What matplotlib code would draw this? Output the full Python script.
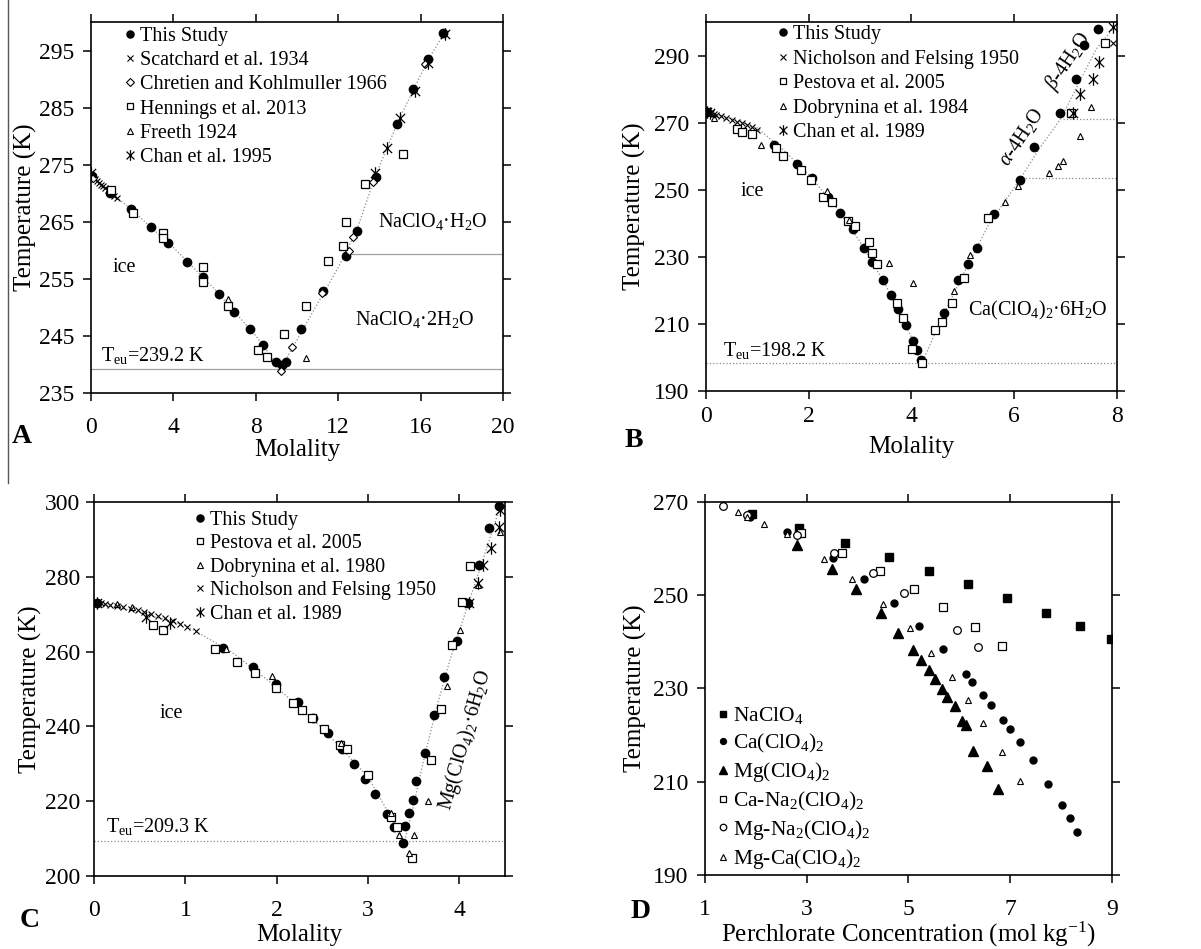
"""
Perchlorate freezing-point depression diagrams (A-D)
"""
import matplotlib
matplotlib.use('Agg')
import matplotlib.pyplot as plt
from matplotlib.path import Path
from matplotlib.lines import Line2D

plt.rcParams['font.family'] = ['Liberation Serif', 'DejaVu Serif']
plt.rcParams['mathtext.fontset'] = 'custom'
plt.rcParams['mathtext.rm'] = 'Liberation Serif'
plt.rcParams['mathtext.it'] = 'Liberation Serif:italic'
plt.rcParams['mathtext.bf'] = 'Liberation Serif:bold'

# ---------------- Panel A : NaClO4 ----------------
A_this_x = [0.05, 0.92, 1.94, 2.9, 3.74, 4.64, 5.45, 6.21, 6.95, 7.74, 8.36, 9.0, 9.26, 9.45,
            10.2, 11.25, 12.38, 12.9, 13.83, 14.85, 15.63, 16.36, 17.09]
A_this_t = [273.1, 270.1, 267.2, 264.0, 261.2, 257.9, 255.3, 252.3, 249.2, 246.2, 243.4, 240.4,
            239.9, 240.4, 246.2, 252.9, 259.0, 263.4, 272.9, 282.2, 288.3, 293.6, 298.1]
A_scat_x = [0.05, 0.1, 0.2, 0.3, 0.4, 0.5, 0.6, 0.7, 0.8, 0.9, 1.0, 1.1, 1.25]
A_scat_t = [273.0, 272.8, 272.5, 272.1, 271.8, 271.5, 271.2, 270.9, 270.5, 270.2, 269.9, 269.6, 269.2]
A_chre_x = [0.1, 9.22, 9.74, 11.2, 12.52, 12.7, 13.7, 16.2]
A_chre_t = [272.7, 238.8, 243.0, 252.5, 259.8, 262.4, 271.9, 292.7]
A_henn_x = [0.95, 2.04, 3.5, 3.5, 5.45, 5.45, 6.66, 8.12, 8.53, 9.37, 10.42, 11.52, 12.25, 12.4,
            13.3, 15.16]
A_henn_t = [270.6, 266.5, 263.0, 262.2, 257.0, 254.4, 250.2, 242.5, 241.3, 245.3, 250.2, 258.2,
            260.7, 265.0, 271.7, 276.8]
A_free_x = [6.66, 10.42]
A_free_t = [251.4, 241.1]
A_chan_x = [0.02, 13.79, 14.37, 15.0, 15.73, 16.36, 17.2]
A_chan_t = [273.5, 273.5, 278.0, 283.1, 288.0, 292.9, 297.9]
A_curve_x = [0, 2, 4, 6, 8, 9.2, 10.5, 12, 12.9, 13.8, 14.9, 15.7, 16.4, 17.2]
A_curve_t = [273.15, 267, 260.5, 253.2, 245, 239.2, 247.5, 257, 263.5, 273, 282.5, 288.5, 293.6, 298.3]
A_teu = 239.2
A_trans = 259.3

# ---------------- Panel B : Ca(ClO4)2 ----------------
B_this_x = [0.02, 1.32, 1.77, 2.06, 2.37, 2.61, 2.86, 3.07, 3.24, 3.45, 3.6, 3.73, 3.89, 4.03,
            4.1, 4.18, 4.63, 4.9, 5.1, 5.27, 5.6, 6.11, 6.38, 6.9, 7.21, 7.35, 7.63]
B_this_t = [273.2, 263.4, 257.8, 253.6, 247.9, 243.2, 238.3, 232.7, 228.5, 223.1, 218.6, 214.5,
            209.7, 204.9, 202.2, 199.3, 213.3, 223.1, 227.9, 232.7, 242.8, 253.0, 262.8, 273.0,
            283.1, 293.0, 297.8]
B_nich_x = [0.05, 0.1, 0.15, 0.2, 0.3, 0.4, 0.5, 0.6, 0.7, 0.8, 0.9, 1.0, 7.92]
B_nich_t = [273.0, 272.8, 272.6, 272.3, 271.9, 271.4, 270.9, 270.3, 269.8, 269.2, 268.6, 267.8, 293.8]
B_pest_x = [0.6, 0.7, 0.9, 1.36, 1.5, 1.85, 2.04, 2.28, 2.45, 2.76, 2.91, 3.17, 3.24, 3.32, 3.71,
            3.83, 4.02, 4.2, 4.45, 4.59, 4.78, 5.02, 5.49, 7.1, 7.76]
B_pest_t = [268.2, 267.3, 266.7, 262.5, 260.2, 256.0, 253.0, 247.9, 246.4, 240.8, 239.3, 234.5,
            231.2, 227.9, 216.3, 211.8, 202.5, 198.4, 208.2, 210.6, 216.3, 223.7, 241.6, 273.0, 293.6]
B_dobr_x = [0.16, 1.07, 2.35, 2.78, 3.56, 4.03, 4.82, 5.14, 5.82, 6.07, 6.68, 6.85, 6.95, 7.28, 7.49]
B_dobr_t = [271.5, 263.4, 249.7, 241.0, 228.2, 222.3, 219.9, 230.6, 246.4, 251.2, 255.1, 257.2,
            258.7, 266.1, 274.8]
B_chan_x = [0.03, 0.08, 7.14, 7.28, 7.53, 7.65, 7.92]
B_chan_t = [273.2, 272.9, 273.0, 278.4, 283.1, 288.2, 298.5]
B_curve_x = [0, 0.5, 1, 1.5, 2, 2.5, 3, 3.5, 4, 4.2, 4.6, 5, 5.5, 6.1, 6.5, 6.9, 7.3, 7.6, 7.95]
B_curve_t = [273.15, 271.2, 268.4, 262, 254.5, 245.5, 234.5, 221.5, 206, 198.2, 212, 224.5,
             239.5, 252.8, 262.5, 271, 283, 292, 298.5]
B_teu = 198.2
B_trans1 = 253.5
B_trans2 = 271.2

# ---------------- Panel C : Mg(ClO4)2 ----------------
C_this_x = [0.03, 1.41, 1.74, 1.99, 2.23, 2.4, 2.56, 2.72, 2.85, 2.97, 3.08, 3.21, 3.28, 3.38,
            3.41, 3.45, 3.49, 3.53, 3.62, 3.72, 3.83, 3.97, 4.09, 4.22, 4.33, 4.43]
C_this_t = [273.0, 261.0, 255.9, 251.3, 246.4, 242.2, 238.2, 234.0, 229.9, 225.9, 221.9, 216.6,
            213.2, 208.8, 213.4, 216.8, 220.3, 225.4, 232.9, 243.0, 253.2, 262.8, 273.0, 283.2,
            293.0, 298.9]
C_pest_x = [0.65, 0.75, 1.32, 1.56, 1.76, 1.99, 2.18, 2.28, 2.39, 2.52, 2.69, 2.77, 3.0, 3.25,
            3.32, 3.48, 3.69, 3.8, 3.92, 4.03, 4.12]
C_pest_t = [267.1, 265.8, 260.7, 257.2, 254.3, 250.3, 246.3, 244.4, 242.3, 239.3, 235.0, 234.0,
            227.0, 215.8, 213.1, 204.8, 231.0, 244.6, 261.8, 273.2, 282.9]
C_dobr_x = [0.25, 0.42, 1.45, 1.95, 2.7, 3.25, 3.34, 3.45, 3.5, 3.66, 3.86, 4.01, 4.2, 4.45]
C_dobr_t = [272.7, 271.9, 260.7, 253.5, 235.6, 216.8, 211.0, 206.1, 211.0, 220.0, 250.8, 265.8,
            277.8, 292.0]
C_nich_x = [0.03, 0.08, 0.12, 0.18, 0.25, 0.32, 0.4, 0.48, 0.55, 0.62, 0.7, 0.78, 0.86, 0.94,
            1.02, 1.12]
C_nich_t = [273.0, 272.9, 272.7, 272.5, 272.2, 271.9, 271.5, 271.1, 270.6, 270.1, 269.6, 268.9,
            268.2, 267.4, 266.6, 265.5]
C_chan_x = [0.03, 0.57, 0.83, 4.11, 4.2, 4.26, 4.35, 4.43, 4.45]
C_chan_t = [273.0, 269.3, 267.6, 273.0, 278.3, 283.2, 287.7, 293.3, 297.9]
C_curve_x = [0, 0.5, 1, 1.5, 2, 2.5, 3, 3.4, 3.5, 3.6, 3.75, 3.9, 4.1, 4.25, 4.45]
C_curve_t = [273.15, 270.5, 267, 260, 250.5, 239.5, 226.5, 209.3, 219, 230, 245, 258, 273, 284, 299]
C_teu = 209.3

# ---------------- Panel D : perchlorate concentration ----------------
D_na_x = [1.92, 2.85, 3.75, 4.61, 5.4, 6.17, 6.93, 7.7, 8.37, 8.98]
D_na_t = [267.5, 264.5, 261.2, 258.2, 255.2, 252.4, 249.4, 246.2, 243.4, 240.6]
D_ca_x = [1.88, 2.62, 3.52, 4.12, 4.71, 5.2, 5.67, 6.13, 6.25, 6.46, 6.62, 6.86, 6.99, 7.19,
          7.44, 7.74, 8.01, 8.17, 8.31]
D_ca_t = [266.8, 263.6, 258.0, 253.5, 248.4, 243.4, 238.5, 233.1, 231.4, 228.5, 226.5, 223.3,
          221.3, 218.5, 214.7, 209.5, 205.0, 202.2, 199.2]
D_mg_x = [2.81, 3.5, 3.97, 4.46, 4.79, 5.09, 5.24, 5.4, 5.52, 5.65, 5.75, 5.91, 6.06, 6.14,
          6.27, 6.54, 6.76]
D_mg_t = [260.8, 255.6, 251.4, 246.2, 242.0, 238.3, 236.1, 234.0, 232.1, 229.9, 228.2, 226.2,
          223.0, 222.2, 216.6, 213.4, 208.5]
D_cana_x = [2.88, 3.69, 4.44, 5.11, 5.68, 6.3, 6.83]
D_cana_t = [263.4, 259.1, 255.2, 251.4, 247.5, 243.2, 239.1]
D_mgna_x = [1.35, 1.83, 2.81, 3.53, 4.3, 4.91, 5.95, 6.36]
D_mgna_t = [269.2, 267.3, 263.0, 259.1, 254.8, 250.5, 242.6, 238.9]
D_mgca_x = [1.65, 1.83, 2.16, 2.61, 3.34, 3.89, 4.49, 5.03, 5.44, 5.85, 6.17, 6.46, 6.83, 7.19]
D_mgca_t = [267.9, 266.8, 265.3, 263.2, 257.8, 253.5, 248.2, 243.0, 237.6, 232.5, 227.6, 222.6,
            216.4, 210.2]

# X with vertical bar, the "Chan et al." marker
STAR6 = Path([(-1, -1), (1, 1), (-1, 1), (1, -1), (0, -1.35), (0, 1.35)],
             [Path.MOVETO, Path.LINETO] * 3)

TICK_FS = 17
LABEL_FS = 18
LEG_FS = 14.5
ANN_FS = 14.5

filled_circle = dict(ls='none', marker='o', ms=6, color='black')
open_square = dict(ls='none', marker='s', ms=5.5, mfc='white', mec='black', mew=0.9)
open_diamond = dict(ls='none', marker='D', ms=4.5, mfc='white', mec='black', mew=0.8)
open_tri = dict(ls='none', marker='^', ms=5, mfc='white', mec='black', mew=0.8)
cross = dict(ls='none', marker='x', ms=5, color='black', mew=0.8)
star6 = dict(ls='none', marker=STAR6, ms=9, mfc='none', mec='black', mew=0.9)
curve_style = dict(color='#8a8a8a', lw=0.9, ls=':')


def style_axes(ax, xlim, ylim, xticks, yticks, xlabel, xpad, ypad, xlab_y, ylab_x):
    ax.set_xlim(*xlim)
    ax.set_ylim(*ylim)
    ax.set_xticks(xticks)
    ax.set_yticks(yticks)
    ax.tick_params(direction='out', length=6, width=1.1, labelsize=TICK_FS,
                   top=True, right=True)
    ax.tick_params(axis='x', pad=xpad)
    ax.tick_params(axis='y', pad=ypad)
    for sp in ax.spines.values():
        sp.set_linewidth(1.2)
    ax.set_xlabel(xlabel, fontsize=LABEL_FS)
    ax.set_ylabel('Temperature (K)', fontsize=LABEL_FS)
    ax.xaxis.set_label_coords(0.5, xlab_y)
    ax.yaxis.set_label_coords(ylab_x, 0.5)


def add_legend(ax, x0, y0, spacing=0.25, fs=LEG_FS):
    leg = ax.legend(loc='upper left', bbox_to_anchor=(x0, y0), frameon=False,
                    fontsize=fs, handlelength=0.5, handletextpad=0.25,
                    labelspacing=spacing, borderpad=0, borderaxespad=0,
                    markerscale=0.85)
    return leg


fig = plt.figure(figsize=(12.01, 9.49), dpi=100)
axA = fig.add_axes([0.0758, 0.5859, 0.343, 0.3909])
axB = fig.add_axes([0.5878, 0.5880, 0.3422, 0.3888])
axC = fig.add_axes([0.0783, 0.0769, 0.3422, 0.3941])
axD = fig.add_axes([0.5870, 0.0780, 0.3389, 0.3930])

# ---- A ----
axA.plot(A_curve_x, A_curve_t, **curve_style)
axA.axhline(A_teu, color='#a0a0a0', lw=0.9)
axA.plot([12.5, 20], [A_trans, A_trans], color='#a0a0a0', lw=0.9)
axA.plot(A_this_x, A_this_t, label='This Study', **filled_circle)
axA.plot(A_scat_x, A_scat_t, label='Scatchard et al. 1934', **cross)
axA.plot(A_chre_x, A_chre_t, label='Chretien and Kohlmuller 1966', **open_diamond)
axA.plot(A_henn_x, A_henn_t, label='Hennings et al. 2013', **open_square)
axA.plot(A_free_x, A_free_t, label='Freeth 1924', **open_tri)
axA.plot(A_chan_x, A_chan_t, label='Chan et al. 1995', **star6)
style_axes(axA, (0, 20), (235, 300), range(0, 21, 4), range(235, 300, 10), 'Molality',
           xpad=11, ypad=6, xlab_y=-0.124, ylab_x=-0.131)
add_legend(axA, 0.082, 0.9865)
axA.text(1.6, 257, 'ice', fontsize=ANN_FS, ha='center', va='center')
axA.text(16.6, 265, 'NaClO$_4$·H$_2$O', fontsize=ANN_FS, ha='center', va='center')
axA.text(15.7, 247.8, 'NaClO$_4$·2H$_2$O', fontsize=ANN_FS, ha='center', va='center')
axA.text(3.0, 241.6, 'T$_{\\mathrm{eu}}$=239.2 K', fontsize=ANN_FS, ha='center', va='center')

# ---- B ----
axB.plot(B_curve_x, B_curve_t, **curve_style)
axB.axhline(B_teu, color='#8a8a8a', lw=0.9, ls=':')
axB.plot([6.15, 8], [B_trans1, B_trans1], color='#8a8a8a', lw=0.9, ls=':')
axB.plot([6.95, 8], [B_trans2, B_trans2], color='#8a8a8a', lw=0.9, ls=':')
axB.plot(B_this_x, B_this_t, label='This Study', **filled_circle)
axB.plot(B_nich_x, B_nich_t, label='Nicholson and Felsing 1950', **cross)
axB.plot(B_pest_x, B_pest_t, label='Pestova et al. 2005', **open_square)
axB.plot(B_dobr_x, B_dobr_t, label='Dobrynina et al. 1984', **open_tri)
axB.plot(B_chan_x, B_chan_t, label='Chan et al. 1989', **star6)
style_axes(axB, (0, 8), (190, 300), range(0, 9, 2), range(190, 300, 20), 'Molality',
           xpad=5, ypad=6, xlab_y=-0.122, ylab_x=-0.146)
add_legend(axB, 0.175, 0.992, spacing=0.27)
axB.text(0.9, 249.5, 'ice', fontsize=ANN_FS, ha='center', va='center')
axB.text(6.45, 214, 'Ca(ClO$_4$)$_2$·6H$_2$O', fontsize=ANN_FS, ha='center', va='center')
axB.text(1.35, 202, 'T$_{\\mathrm{eu}}$=198.2 K', fontsize=ANN_FS, ha='center', va='center')
axB.text(6.15, 265.8, '$\\alpha$-4H$_2$O', fontsize=ANN_FS, ha='center', va='center', rotation=56)
axB.text(7.06, 288.2, '$\\beta$-4H$_2$O', fontsize=ANN_FS, ha='center', va='center', rotation=56)

# ---- C ----
axC.plot(C_curve_x, C_curve_t, **curve_style)
axC.axhline(C_teu, color='#8a8a8a', lw=0.9, ls=':')
axC.plot(C_this_x, C_this_t, label='This Study', **filled_circle)
axC.plot(C_pest_x, C_pest_t, label='Pestova et al. 2005', **open_square)
axC.plot(C_dobr_x, C_dobr_t, label='Dobrynina et al. 1980', **open_tri)
axC.plot(C_nich_x, C_nich_t, label='Nicholson and Felsing 1950', **cross)
axC.plot(C_chan_x, C_chan_t, label='Chan et al. 1989', **star6)
style_axes(axC, (0, 4.5), (200, 300), range(0, 5), range(200, 301, 20), 'Molality',
           xpad=11, ypad=4, xlab_y=-0.128, ylab_x=-0.127)
add_legend(axC, 0.245, 0.9766, spacing=0.22)
axC.text(0.85, 243.5, 'ice', fontsize=ANN_FS, ha='center', va='center')
axC.text(0.7, 213.2, 'T$_{\\mathrm{eu}}$=209.3 K', fontsize=ANN_FS, ha='center', va='center')
axC.text(4.07, 236.5, 'Mg(ClO$_4$)$_2$·6H$_2$O', fontsize=ANN_FS, ha='center', va='center',
         rotation=74)

# ---- D ----
axD.plot(D_na_x, D_na_t, ls='none', marker='s', ms=5.5, color='black', label='NaClO$_4$')
axD.plot(D_ca_x, D_ca_t, ls='none', marker='o', ms=5, color='black', label='Ca(ClO$_4$)$_2$')
axD.plot(D_mg_x, D_mg_t, ls='none', marker='^', ms=6.5, color='black', label='Mg(ClO$_4$)$_2$')
axD.plot(D_cana_x, D_cana_t, label='Ca-Na$_2$(ClO$_4$)$_2$', **open_square)
axD.plot(D_mgna_x, D_mgna_t, ls='none', marker='o', ms=5.5, mfc='white', mec='black', mew=0.9,
         label='Mg-Na$_2$(ClO$_4$)$_2$')
axD.plot(D_mgca_x, D_mgca_t, label='Mg-Ca(ClO$_4$)$_2$', **open_tri)
style_axes(axD, (1, 9), (190, 270), range(1, 10, 2), range(190, 271, 20),
           'Perchlorate Concentration (mol kg$^{-1}$)',
           xpad=11, ypad=6, xlab_y=-0.121, ylab_x=-0.1425)
add_legend(axD, 0.03, 0.4546, spacing=0.25, fs=15.5)

# panel letters
for lbl, x, y in [('A', 0.0095, 0.540), ('B', 0.52, 0.536), ('C', 0.016, 0.030),
                  ('D', 0.525, 0.039)]:
    fig.text(x, y, lbl, fontsize=20, fontweight='bold', ha='left', va='center')

# thin frame line on the far left of the upper half
fig.add_artist(Line2D([8 / 1201, 8 / 1201], [1 - 483 / 949, 1.0], color='#555555', lw=1.0))

plt.savefig('out.png', dpi=100)
plt.close()
